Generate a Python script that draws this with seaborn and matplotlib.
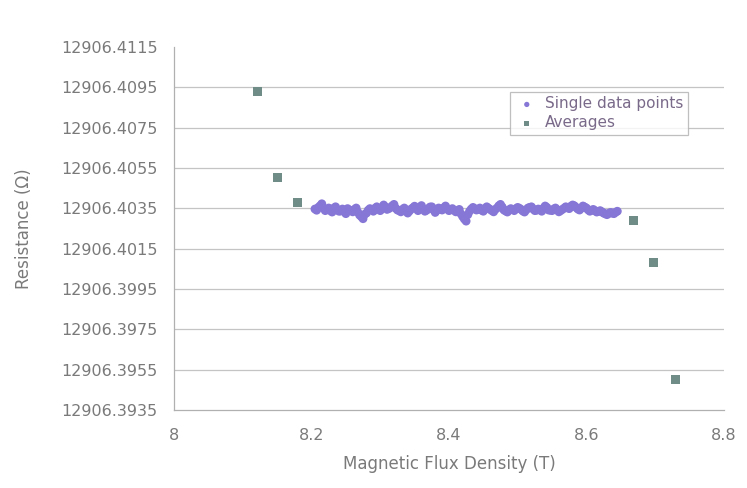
import matplotlib
matplotlib.use("Agg")
import matplotlib.pyplot as plt
import seaborn as sns
import pandas as pd

# ---- data ----
# single readings, first sweep
single_b = [8.205, 8.210, 8.215, 8.220, 8.225, 8.230, 8.235, 8.240, 8.245, 8.250,
            8.255, 8.260, 8.265, 8.270, 8.275, 8.280, 8.285, 8.290, 8.295, 8.300,
            8.305, 8.310, 8.315, 8.320, 8.325, 8.330, 8.335, 8.340, 8.345, 8.350,
            8.355, 8.360, 8.365, 8.370, 8.375, 8.380, 8.385, 8.390, 8.395, 8.400,
            8.405, 8.410, 8.415, 8.420, 8.425, 8.430, 8.435, 8.440, 8.445, 8.450,
            8.455, 8.460, 8.465, 8.470, 8.475, 8.480, 8.485, 8.490, 8.495, 8.500,
            8.505, 8.510, 8.515, 8.520, 8.525, 8.530, 8.535, 8.540, 8.545, 8.550,
            8.555, 8.560, 8.565, 8.570, 8.575, 8.580, 8.585, 8.590, 8.595, 8.600,
            8.605, 8.610, 8.615, 8.620, 8.625, 8.630, 8.635, 8.640, 8.645]
single_r = [12906.40346, 12906.40354, 12906.40372, 12906.40338, 12906.40351, 12906.40331, 12906.40357, 12906.40335, 12906.40346, 12906.40323,
            12906.40341, 12906.40332, 12906.40351, 12906.40316, 12906.40298, 12906.40326, 12906.40348, 12906.40335, 12906.40357, 12906.40338,
            12906.40366, 12906.40344, 12906.40354, 12906.40369, 12906.40341, 12906.40332, 12906.40351, 12906.40326, 12906.40346, 12906.40360,
            12906.40338, 12906.40363, 12906.40335, 12906.40348, 12906.40357, 12906.40329, 12906.40351, 12906.40341, 12906.40361, 12906.40338,
            12906.40348, 12906.40332, 12906.40344, 12906.40308, 12906.40286, 12906.40335, 12906.40354, 12906.40341, 12906.40351, 12906.40335,
            12906.40357, 12906.40344, 12906.40332, 12906.40351, 12906.40369, 12906.40341, 12906.40331, 12906.40348, 12906.40338, 12906.40354,
            12906.40344, 12906.40331, 12906.40351, 12906.40357, 12906.40338, 12906.40346, 12906.40335, 12906.40361, 12906.40341, 12906.40338,
            12906.40351, 12906.40332, 12906.40344, 12906.40357, 12906.40348, 12906.40366, 12906.40354, 12906.40341, 12906.40361, 12906.40351,
            12906.40335, 12906.40344, 12906.40331, 12906.40338, 12906.40326, 12906.40318, 12906.40329, 12906.40323, 12906.40335]
# single readings, second sweep
single_b2 = [8.2075, 8.2125, 8.2175, 8.2225, 8.2275, 8.2325, 8.2375, 8.2425, 8.2475, 8.2525,
             8.2575, 8.2625, 8.2675, 8.2725, 8.2775, 8.2825, 8.2875, 8.2925, 8.2975, 8.3025,
             8.3075, 8.3125, 8.3175, 8.3225, 8.3275, 8.3325, 8.3375, 8.3425, 8.3475, 8.3525,
             8.3575, 8.3625, 8.3675, 8.3725, 8.3775, 8.3825, 8.3875, 8.3925, 8.3975, 8.4025,
             8.4075, 8.4125, 8.4175, 8.4225, 8.4275, 8.4325, 8.4375, 8.4425, 8.4475, 8.4525,
             8.4575, 8.4625, 8.4675, 8.4725, 8.4775, 8.4825, 8.4875, 8.4925, 8.4975, 8.5025,
             8.5075, 8.5125, 8.5175, 8.5225, 8.5275, 8.5325, 8.5375, 8.5425, 8.5475, 8.5525,
             8.5575, 8.5625, 8.5675, 8.5725, 8.5775, 8.5825, 8.5875, 8.5925, 8.5975, 8.6025,
             8.6075, 8.6125, 8.6175, 8.6225, 8.6275, 8.6325, 8.6375, 8.6425]
single_r2 = [12906.40340, 12906.40362, 12906.40350, 12906.40344, 12906.40338, 12906.40350, 12906.40342, 12906.40336, 12906.40340, 12906.40348,
             12906.40338, 12906.40344, 12906.40330, 12906.40308, 12906.40320, 12906.40340, 12906.40344, 12906.40350, 12906.40346, 12906.40352,
             12906.40356, 12906.40348, 12906.40362, 12906.40350, 12906.40338, 12906.40344, 12906.40340, 12906.40336, 12906.40352, 12906.40348,
             12906.40354, 12906.40346, 12906.40340, 12906.40356, 12906.40342, 12906.40340, 12906.40346, 12906.40352, 12906.40348, 12906.40342,
             12906.40340, 12906.40336, 12906.40322, 12906.40296, 12906.40318, 12906.40346, 12906.40348, 12906.40344, 12906.40340, 12906.40348,
             12906.40350, 12906.40338, 12906.40344, 12906.40362, 12906.40356, 12906.40336, 12906.40342, 12906.40344, 12906.40348, 12906.40350,
             12906.40336, 12906.40342, 12906.40354, 12906.40346, 12906.40340, 12906.40342, 12906.40350, 12906.40354, 12906.40340, 12906.40346,
             12906.40342, 12906.40338, 12906.40350, 12906.40352, 12906.40360, 12906.40362, 12906.40346, 12906.40350, 12906.40356, 12906.40342,
             12906.40340, 12906.40338, 12906.40334, 12906.40332, 12906.40322, 12906.40324, 12906.40326, 12906.40330]

avg_b = [8.122, 8.150, 8.179, 8.668, 8.698, 8.730]
avg_r = [12906.4093, 12906.4050, 12906.4038, 12906.4029, 12906.4008, 12906.3950]

x_ticks = [8.0, 8.2, 8.4, 8.6, 8.8]
x_ticklabels = ["8", "8.2", "8.4", "8.6", "8.8"]
y_ticks = [12906.3935, 12906.3955, 12906.3975, 12906.3995, 12906.4015,
           12906.4035, 12906.4055, 12906.4075, 12906.4095, 12906.4115]
y_ticklabels = ["12906.3935", "12906.3955", "12906.3975", "12906.3995", "12906.4015",
                "12906.4035", "12906.4055", "12906.4075", "12906.4095", "12906.4115"]

df_single = pd.DataFrame({"B": single_b + single_b2, "R": single_r + single_r2})
df_avg = pd.DataFrame({"B": avg_b, "R": avg_r})

# ---- plot ----
sns.set_style("white")
plt.rcParams["font.family"] = ["DejaVu Sans"]
text_col = "#7a7a7a"

fig = plt.figure(figsize=(7.47, 4.88), dpi=100)
ax = fig.add_axes([0.233, 0.160, 0.736, 0.744])

for yv in y_ticks[1:-1]:
    ax.axhline(yv, color="#c4c4c4", lw=0.9, zorder=0)

sns.scatterplot(data=df_single, x="B", y="R", ax=ax, marker="o", s=40,
                color="#8676d6", edgecolor="none", linewidth=0,
                label="Single data points", zorder=3)
sns.scatterplot(data=df_avg, x="B", y="R", ax=ax, marker="s", s=42,
                color="#6f8c86", edgecolor="none", linewidth=0,
                label="Averages", zorder=4)

ax.set_xlim(8.0, 8.8)
ax.set_ylim(12906.3935, 12906.4115)
ax.set_xticks(x_ticks)
ax.set_xticklabels(x_ticklabels)
ax.set_yticks(y_ticks)
ax.set_yticklabels(y_ticklabels)

ax.tick_params(axis="both", colors=text_col, labelsize=11.5, length=4, width=0.8,
               direction="out")
ax.tick_params(axis="x", pad=9)
ax.tick_params(axis="y", pad=8)
for side in ["top", "right"]:
    ax.spines[side].set_visible(False)
for side in ["left", "bottom"]:
    ax.spines[side].set_color("#b0b0b0")
    ax.spines[side].set_linewidth(0.9)

ax.set_xlabel("Magnetic Flux Density (T)", color=text_col, fontsize=12, labelpad=9)
ax.set_ylabel("Resistance (Ω)", color=text_col, fontsize=12, labelpad=20)

leg = ax.legend(loc="upper left", bbox_to_anchor=(0.611, 0.876), fontsize=11,
                frameon=True, fancybox=False, edgecolor="#b0b0b0",
                borderaxespad=0, handletextpad=0.4, borderpad=0.3,
                labelspacing=0.25, markerscale=0.6, handlelength=1.6)
for t in leg.get_texts():
    t.set_color("#7a6a8a")
leg.get_frame().set_linewidth(0.9)

fig.savefig("out.png", dpi=100, facecolor="white")
